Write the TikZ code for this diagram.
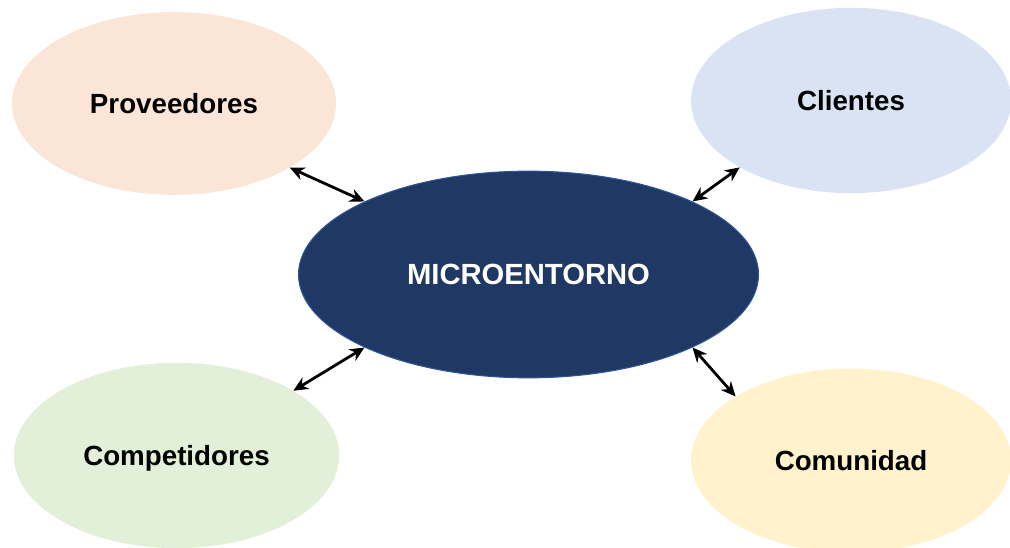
\documentclass[tikz,border=0pt]{standalone}
\usepackage{fontspec}
\setmainfont{Liberation Sans}
\usetikzlibrary{shapes.geometric,arrows.meta}
\definecolor{provC}{HTML}{FBE5D6}
\definecolor{cliC}{HTML}{DAE3F3}
\definecolor{compC}{HTML}{E2F0D9}
\definecolor{comuC}{HTML}{FFF2CC}
\definecolor{microC}{HTML}{203864}
\definecolor{microB}{HTML}{2F5597}
\tikzset{
  outer/.style={ellipse, draw=none, inner sep=0pt, text depth=0pt, minimum width=243pt, minimum height=137pt, font=\bfseries\fontsize{20.8}{24}\selectfont, text=black},
  center/.style={ellipse, fill=microC, draw=microB, line width=0.8pt, inner sep=0pt, minimum width=345pt, minimum height=155pt, font=\bfseries\fontsize{21.9}{26}\selectfont, text=white},
  link/.style={{Stealth[length=11pt,width=10pt]}-{Stealth[length=11pt,width=10pt]}, line width=2.1pt, black}
}
\begin{document}
\begin{tikzpicture}[x=0.75pt,y=-0.75pt]
\useasboundingbox (0,0) rectangle (1010,548);
\clip (0,0) rectangle (1010,548);
\node[outer, fill=provC] (prov) at (174,103.5) {Proveedores};
\node[outer, fill=cliC, minimum width=240pt, minimum height=139pt] (cli) at (851,100.5) {Clientes};
\node[outer, fill=compC, minimum width=244pt, minimum height=139pt] (comp) at (176.5,455.5) {Competidores};
\node[outer, fill=comuC, minimum width=240pt, minimum height=138pt] (comu) at (851,460.5) {Comunidad};
\node[center] (micro) at (528.5,274.5) {MICROENTORNO};
\draw[link] (prov.-29) -- (micro.156);
\draw[link] (cli.-149) -- (micro.24);
\draw[link] (comp.29) -- (micro.204);
\draw[link] (comu.151) -- (micro.-24);
\end{tikzpicture}
\end{document}
